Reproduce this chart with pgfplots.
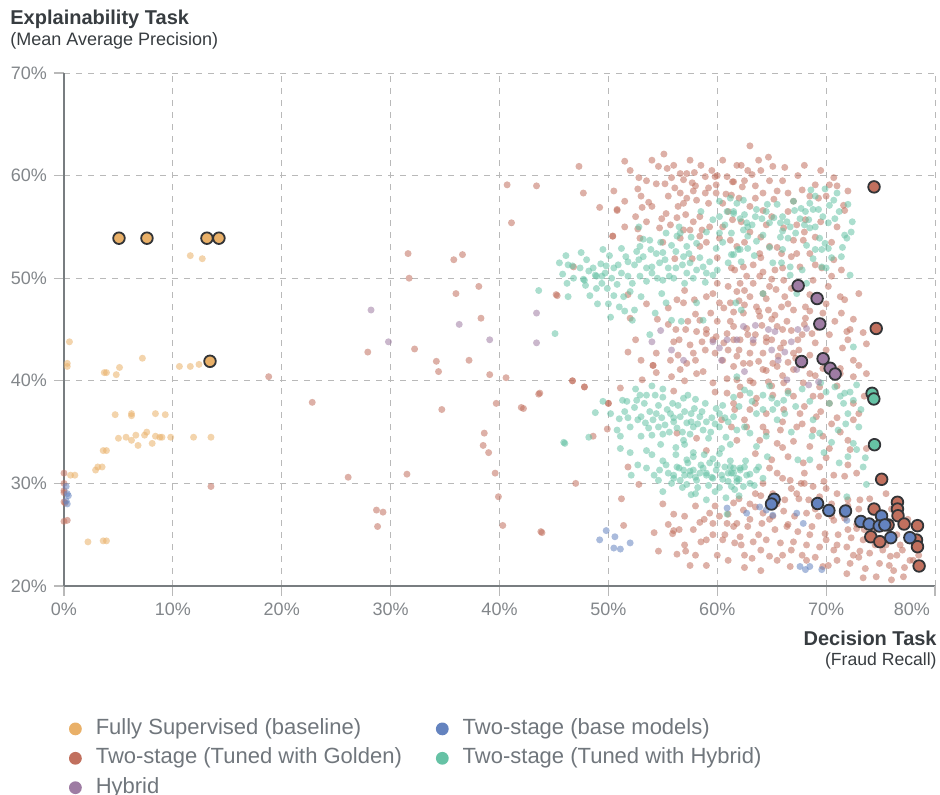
\documentclass[border=0pt]{standalone}
\usepackage{pgfplots}
\pgfplotsset{compat=1.18}
\usepackage{fontspec}
\setmainfont{Liberation Sans}
\definecolor{cOr}{RGB}{233,176,104}
\definecolor{cRd}{RGB}{193,112,94}
\definecolor{cPu}{RGB}{158,124,163}
\definecolor{cBl}{RGB}{100,131,191}
\definecolor{cTe}{RGB}{102,194,165}
\definecolor{cEdge}{RGB}{50,52,55}
\definecolor{cGrid}{RGB}{185,185,185}
\definecolor{cAxis}{RGB}{120,125,128}
\definecolor{cTick}{RGB}{130,134,138}
\definecolor{cTitle}{RGB}{55,60,64}
\definecolor{cLeg}{RGB}{112,118,124}
\pgfplotsset{
  smallpt/.style={only marks, mark=*, mark size=1.75pt, color=#1, mark options={draw=#1, fill=#1, fill opacity=0.55, draw opacity=0}, forget plot},
  bigpt/.style={only marks, mark=*, mark size=2.9pt, mark options={draw=cEdge, line width=0.9pt, fill=#1}, forget plot},
  legpt/.style={only marks, mark=*, mark size=3.2pt, color=#1, mark options={draw=#1, fill=#1, draw opacity=0}},
}
\begin{document}
\begin{tikzpicture}
\begin{axis}[
  scale only axis, width=435.5pt, height=256.5pt,
  xmin=0, xmax=80, ymin=20, ymax=70,
  clip=false,
  axis lines*=left,
  axis line style={cAxis, line width=1pt},
  xtick={0,10,...,70}, ytick={20,30,...,70},
  extra x ticks={80}, extra x tick labels={80\%},
  extra x tick style={grid=major, xticklabel style={anchor=north east, xshift=1pt}},
  xticklabel={\pgfmathprintnumber[assume math mode=true]{\tick}\%},
  yticklabel={\pgfmathprintnumber[assume math mode=true]{\tick}\%},
  tick label style={font=\fontsize{9}{10}\selectfont, text=cTick},
  tick align=outside, major tick length=5pt,
  tick style={cGrid, line width=0.6pt},
  grid=major, grid style={cGrid, dash pattern=on 3pt off 3pt, line width=0.5pt},
  legend columns=2, legend cell align=left,
  legend style={draw=none, fill=none, inner sep=0pt, outer sep=0pt, anchor=north west, at={(axis description cs:0,0)}, xshift=2.5pt, yshift=-66.2pt,
    font=\fontsize{11}{12}\selectfont, text=cLeg, row sep=4.2pt,
    nodes={inner xsep=2pt, inner ysep=0pt, text height=8pt, text depth=2.5pt},
    /tikz/every odd column/.append style={column sep=5pt},
    /tikz/every even column/.append style={column sep=15pt}},
]
\addlegendimage{legpt=cOr}
\addlegendentry{Fully Supervised (baseline)}
\addlegendimage{legpt=cBl}
\addlegendentry{Two-stage (base models)}
\addlegendimage{legpt=cRd}
\addlegendentry{Two-stage (Tuned with Golden)}
\addlegendimage{legpt=cTe}
\addlegendentry{Two-stage (Tuned with Hybrid)}
\addlegendimage{legpt=cPu}
\addlegendentry{Hybrid}

% Two-stage (Tuned with Golden), small
\addplot[smallpt=cRd] coordinates {
(0,31.0)(0,30.0)(0,29.3)(0,29.1)(0,28.2)(0.1,28.1)(0,26.3)(0.3,26.4)(13.5,29.7)(18.8,40.4)(22.8,37.9)(26.1,30.6)(27.9,42.8)(28.7,27.4)(29.3,27.2)(28.8,25.8)(31.5,30.9)(31.6,52.4)(31.7,50.0)(32.2,43.1)(34.2,41.9)(34.4,40.9)(34.7,37.2)(35.8,51.8)(36.6,52.3)(36.0,48.5)(38.1,49.2)(38.3,46.1)(37.2,42.0)(39.1,40.6)(40.6,40.3)(38.6,34.9)(39.6,31.0)(39.9,28.7)(40.3,25.9)(40.7,59.1)(41.1,55.4)(42.0,37.4)(42.2,37.3)(43.8,25.3)(47.8,39.4)(48.6,34.6)(49.9,35.3)(50.8,56.6)
(43.4,59.0)(39.7,37.8)(38.5,33.7)(39.0,33.0)(43.6,38.7)(45.3,48.3)(46.7,40.0)(47.0,30.0)(49.2,56.9)(50.4,54.1)(50.0,37.8)
(47.3,60.9)(47.7,58.3)(51.5,61.4)(55.1,62.1)(54.6,60.9)(55.4,60.7)(52.8,59.8)(54.4,59.2)(55.2,59.2)(56.1,58.8)(52.7,58.7)(56.6,60.2)(57.2,60.2)(57.9,60.3)(56.9,59.6)(57.7,59.3)(58.9,59.9)(59.8,59.9)(59.9,59.1)(60.9,59.9)(61.5,59.4)(61.8,61.0)(56.6,58.3)(57.2,57.8)(56.9,57.3)(58.1,57.6)(58.9,58.3)(59.2,57.3)(59.9,58.3)(60.5,57.3)(53.7,57.4)(53.1,56.9)(50.8,56.7)(55.3,56.3)(56.3,55.9)(57.1,56.2)(58.4,56.0)(54.9,55.8)(54.7,54.9)(55.7,55.2)(56.9,54.7)(57.5,54.7)(58.6,54.7)(59.3,55.0)(60.2,53.9)(52.9,53.9)(52.7,54.8)(50.4,54.1)(56.6,53.9)(58.4,54.1)(58.4,53.1)(57.7,51.9)(56.1,51.9)(61.2,53.7)(61.8,53.1)(46.8,51.1)(51.8,48.4)(52.0,46.1)(55.5,47.1)(56.3,47.9)(56.9,47.6)(57.9,47.9)(59.0,48.2)(59.6,48.5)(60.2,47.6)(60.6,47.1)(61.5,46.7)(59.4,46.6)(58.4,45.9)(57.3,45.8)(56.2,45.0)(57.1,45.0)(58.1,44.8)(59.0,44.6)(59.9,44.3)(60.9,44.6)(58.6,43.8)(59.6,44.0)(60.6,43.7)(61.5,44.0)(56.0,43.8)(56.4,42.5)(57.8,42.7)(58.9,43.0)(59.8,42.7)(54.4,42.7)(54.1,41.5)(55.7,42.0)(51.8,42.8)(45.2,48.4)(61.2,45.8)(61.3,58.1)(61.3,51.0)(61.0,49.2)
(63.0,62.9)(64.7,61.8)(65.1,60.9)(62.2,61.0)(63.2,60.1)(61.4,59.4)(62.3,58.9)(64.2,58.3)(65.2,57.7)(66.5,58.3)(67.4,60.0)(67.8,58.6)(69.0,59.1)(70.3,59.1)(70.7,59.8)(69.3,57.8)(71.6,57.1)(71.7,56.6)(64.2,56.6)(63.0,57.0)(62.2,55.5)(61.4,55.7)(64.5,55.2)(66.1,54.9)(67.3,55.2)(68.1,55.7)(67.0,53.7)(67.9,53.7)(64.8,53.1)(63.9,52.4)(65.9,52.4)(67.3,52.4)(68.5,52.4)(70.7,51.8)(69.0,51.3)(66.8,52.1)(63.3,51.3)(62.4,51.1)(61.6,50.8)(64.2,50.6)(65.3,50.8)(67.6,51.1)(69.6,51.0)(71.4,50.8)(62.7,50.2)(63.9,50.2)(65.0,49.9)(66.1,49.8)(62.1,49.5)(63.3,49.5)(64.8,49.2)(65.4,48.9)(61.8,48.7)(63.0,48.2)(64.2,48.5)(66.2,48.2)(68.5,48.4)(70.2,49.2)(71.3,48.2)(71.7,47.9)(61.2,47.6)(62.5,47.4)(63.6,47.2)(64.7,46.9)(65.9,47.2)(67.0,46.9)(68.1,47.2)(62.4,46.6)(63.9,46.3)(65.3,46.4)(66.4,45.8)(68.1,46.1)(69.7,46.6)(71.4,46.6)(61.5,45.3)(62.7,45.1)(64.1,45.4)(65.5,45.3)(66.8,44.9)(68.7,44.6)(70.3,44.5)(71.9,44.8)(73.4,44.7)(73.7,43.6)(72.0,44.0)(62.1,44.0)(63.3,43.7)(64.5,43.8)(66.1,43.7)(67.4,44.0)(69.0,43.7)(63.0,42.7)(64.2,42.7)(65.6,42.4)(67.0,42.7)(68.5,42.5)(61.8,42.4)(62.4,41.7)(63.8,41.9)(65.1,41.7)(66.5,41.8)(67.9,41.5)(69.7,41.2)(71.3,41.2)
(43.7,38.8)(46.7,40.0)(47.8,39.4)(50.0,37.8)(51.8,31.6)(52.8,29.9)(51.2,28.5)(51.4,25.9)(43.9,25.2)(54.2,25.2)(55.9,25.1)(56.0,25.4)(54.6,23.4)(56.3,23.1)(57.1,23.4)(57.8,25.5)(58.5,24.3)(58.4,26.2)(59.3,27.1)(59.8,27.8)(60.2,26.8)(59.6,25.0)(60.7,25.0)(61.5,25.8)(61.6,24.2)(60.9,26.1)(59.6,26.1)(51.1,39.3)(53.1,40.1)(54.1,41.5)(54.4,40.8)(55.8,40.4)(56.6,41.1)(57.2,41.7)(58.1,40.7)(58.7,40.9)(59.8,38.9)(60.9,38.8)(61.5,37.8)(60.4,36.2)(61.3,35.5)(61.8,34.2)(59.0,33.2)(58.1,34.4)(56.3,34.9)(59.6,39.8)(60.9,40.2)(62.1,39.4)
(61.5,41.4)(63.0,41.7)(64.2,41.1)(65.5,41.4)(67.0,41.1)(68.5,40.7)(70.3,41.4)(71.3,40.7)(72.5,40.4)(73.7,40.7)(61.8,40.1)(63.3,39.8)(64.7,39.9)(66.1,39.8)(67.9,39.8)(69.4,39.4)(62.1,38.6)(63.6,38.3)(65.1,38.6)(67.0,38.5)(68.8,38.5)(70.3,37.8)(72.5,37.8)(61.6,37.2)(63.0,37.2)(64.5,36.8)(66.1,37.2)(67.6,36.8)(69.1,36.5)(71.0,36.4)(72.5,36.2)(62.7,35.5)(64.2,35.5)(65.8,35.2)(67.3,35.5)(68.8,35.2)(69.7,34.6)(71.3,35.0)(63.9,34.2)(65.5,33.9)(67.0,34.1)(68.5,33.6)(70.3,33.4)(72.2,33.3)(73.7,33.4)(63.5,32.9)(65.0,32.3)(66.5,32.6)(67.9,32.0)(69.4,31.6)(70.7,30.8)(71.7,30.7)(72.8,31.0)(65.5,31.0)(66.7,30.3)(67.7,30.0)(68.8,29.7)(64.2,30.0)(65.1,29.0)(66.2,28.4)(67.3,29.0)(68.4,28.4)(69.4,28.7)(71.0,29.0)(72.0,28.4)(73.1,28.4)(61.5,28.1)(62.4,27.4)(63.5,27.7)(64.2,27.1)(65.1,26.8)(66.1,27.3)(67.1,26.8)(68.2,27.1)(69.3,26.8)(70.7,26.4)(71.7,26.6)(72.8,25.6)(61.8,26.1)(62.8,25.8)(64.1,26.1)(65.3,25.5)(66.4,25.8)(67.4,25.3)(68.7,25.8)(69.9,25.1)(71.1,25.0)(72.3,24.7)(73.4,24.5)(62.1,24.8)(63.3,24.3)(64.5,24.5)(65.8,24.2)(67.0,24.3)(68.2,24.0)(69.4,23.8)(70.7,23.5)(71.9,23.8)(73.1,23.4)(74.0,23.2)(75.2,23.5)(76.5,23.0)(63.2,22.7)(64.8,22.9)(66.7,21.9)(68.2,22.5)(69.7,21.9)(71.0,22.5)(72.2,22.2)(73.6,21.7)(74.9,22.2)(76.0,20.6)(77.1,20.9)(77.7,22.5)(75.9,22.9)(74.6,20.9)(71.9,21.2)(73.4,20.8)
(74.5,25.5)(75.5,24.0)(76.5,25.0)(77.0,23.5)(78.0,22.5)(76.2,21.5)(73.0,22.8)(72.0,25.5)(70.0,24.5)(69.0,27.5)(66.0,23.0)(64.0,23.5)(62.5,23.0)(63.0,26.5)(65.5,28.0)(67.5,28.5)(70.5,28.0)(71.5,27.0)(74.0,28.5)(73.0,27.5)(75.5,29.0)(66.5,26.0)(68.5,25.0)(72.8,26.0)(61.0,22.5)(59.0,22.0)(58.0,23.0)(57.0,24.0)(56.0,27.0)(55.0,28.0)
(53.0,58.0)(54.0,57.0)(55.5,58.0)(58.0,59.0)(59.5,60.5)(60.5,61.5)(57.5,61.5)(56.0,61.0)(52.0,60.5)(62.5,59.5)(63.5,59.0)(64.0,60.5)(66.0,59.5)(68.0,61.0)(66.5,56.5)(65.0,56.0)(69.5,55.5)(70.5,53.5)(71.0,55.0)(63.0,54.5)(64.5,48.0)(62.0,43.0)(63.5,44.5)(65.0,44.0)(66.0,45.0)(67.5,43.0)(68.0,45.5)(64.5,41.0)(66.0,40.5)(63.0,40.0)(69.0,40.5)(70.0,43.0)(72.5,42.0)(72.5,46.0)(73.0,48.5)
(50.5,58.5)(51.5,57.5)(52.5,56.0)(53.5,59.5)(54.0,61.5)(55.8,59.8)(56.4,57.0)(57.8,58.5)(58.5,61.0)(59.2,58.8)(60.0,60.0)(60.8,58.2)(61.0,56.5)(62.0,57.8)(62.8,60.5)(63.8,61.5)(64.8,59.5)(65.5,58.5)(66.2,60.8)(67.0,57.5)(68.5,58.0)(69.5,60.5)(70.0,58.0)(71.0,59.0)(72.0,58.5)(62.5,53.5)(64.0,54.0)(65.5,53.0)(68.0,54.5)(69.0,54.0)(66.0,51.0)(64.0,52.0)(60.0,52.0)(59.0,53.5)(55.0,53.5)(53.5,55.5)(51.5,55.0)(57.8,55.5)(60.5,55.0)(63.5,57.8)
(55.5,45.5)(56.5,44.0)(57.5,43.5)(58.0,46.5)(59.0,45.0)(60.0,45.8)(61.0,43.0)(62.0,47.8)(62.8,44.5)(63.8,46.8)(64.5,44.2)(65.0,46.0)(65.8,43.2)(66.5,47.5)(67.2,42.2)(67.8,44.5)(68.5,46.8)(69.2,45.2)(70.0,47.5)(70.8,45.8)(71.5,43.2)(72.2,45.0)(73.0,41.5)(71.0,39.5)(69.5,38.5)(68.0,37.5)(66.5,39.0)(65.0,39.5)(63.5,37.8)(62.5,36.2)(64.5,35.0)(66.0,36.0)(67.8,35.8)(69.5,37.0)(70.5,35.8)(73.0,36.8)(73.5,38.5)(72.0,34.2)(70.0,32.5)(68.0,31.0)(66.0,33.5)(64.8,31.5)(63.5,29.0)(66.8,29.5)(69.8,30.2)(72.0,31.8)(60.5,42.0)(58.0,42.0)(57.0,40.0)(56.0,39.0)(53.0,42.0)(52.5,44.0)(54.5,46.0)(53.5,47.5)(57.0,48.8)(60.0,49.5)(62.5,48.8)(66.8,49.0)(68.8,49.8)(70.5,50.2)
(55.5,26.0)(57.0,26.8)(58.0,27.8)(59.0,24.5)(60.0,23.0)(61.0,27.0)(62.0,28.5)(63.0,28.0)(64.0,28.8)(62.5,21.8)(64.0,21.5)(65.5,22.5)(66.8,23.5)(67.8,23.0)(69.0,22.8)(70.2,22.0)(70.5,26.8)(71.0,24.0)(72.5,23.0)(73.5,25.5)(74.5,24.0)(75.8,22.0)(77.2,21.8)(76.8,24.0)(78.5,23.0)(77.5,26.5)(76.0,27.5)(74.8,27.0)(73.8,26.0)(72.0,27.8)(70.0,29.5)(68.0,30.0)(66.0,30.5)(64.8,26.5)(63.8,25.0)(62.2,24.0)(60.5,24.5)(58.8,26.5)(57.5,22.0)(56.5,25.5)
};
% Two-stage (Tuned with Hybrid), small
\addplot[smallpt=cTe] coordinates {
(45.1,44.6)(43.6,48.8)(46.1,52.2)(46.3,51.3)(45.8,50.4)(46.2,49.5)(46.3,48.2)(47.7,49.9)(47.9,49.3)(48.2,50.7)(48.6,51.0)(48.8,50.3)(48.3,48.3)(49.3,51.4)(49.4,50.2)(49.5,52.8)(49.8,51.2)(49.4,49.5)(50.1,52.2)(50.5,48.3)(50.0,47.5)(48.8,36.9)(48.2,34.5)(46.0,33.9)
(46.7,51.2)(47.8,49.8)(49.7,50.5)(48.9,50.2)(51.0,47.2)(50.9,51.3)(50.8,49.4)(51.6,52.1)(51.8,50.2)(52.0,48.7)(51.2,52.9)(52.6,52.6)(52.9,53.1)(53.2,52.1)(52.4,51.3)(52.9,50.2)(53.5,49.7)(53.8,53.7)(54.0,51.1)(54.4,52.4)(54.7,51.5)(55.0,49.8)(54.9,48.5)(55.3,47.6)(54.3,46.6)(55.3,54.4)(55.8,53.2)(56.3,54.1)(56.6,54.4)(57.2,53.1)(56.9,52.1)(56.2,51.0)(57.2,50.5)(58.1,50.8)(58.7,51.1)(59.0,50.5)(59.6,50.3)(58.1,53.4)(59.6,55.7)(60.2,56.0)(60.9,56.5)(61.5,56.3)(60.7,55.2)(61.3,54.4)(59.9,52.9)(61.3,52.3)(61.9,52.8)(55.8,45.9)(56.7,45.8)(58.7,45.9)(58.1,47.6)(53.8,44.5)(47.4,51.0)(50.3,50.0)(51.4,48.2)(52.4,46.9)(52.2,45.9)
(62.4,57.6)(61.8,57.3)(63.6,56.7)(61.5,56.5)(62.1,55.8)(62.7,55.4)(64.1,55.8)(64.8,55.4)(65.8,55.4)(66.4,55.5)(66.7,55.0)(67.1,56.6)(67.7,56.8)(68.5,57.3)(68.1,56.5)(68.8,56.7)(69.3,56.7)(67.6,55.8)(68.4,55.7)(68.5,54.9)(69.7,56.0)(70.3,57.1)(70.7,57.6)(69.9,58.7)(70.8,55.8)(71.7,54.2)(71.9,53.9)(72.3,54.5)(69.4,53.9)(69.0,52.8)(69.6,52.8)(70.2,52.9)(68.8,51.9)(71.4,52.1)(69.6,51.1)(70.0,51.0)(72.2,50.3)(62.4,54.7)(62.8,54.1)(64.2,54.2)(65.8,54.0)(66.5,53.9)(63.6,53.6)(62.1,52.8)(62.8,52.9)(61.5,52.3)(65.1,51.5)(65.9,51.5)(66.7,51.1)(64.2,48.5)(66.7,50.3)(67.3,48.5)(68.2,49.5)(72.5,43.3)(61.7,47.6)(62.2,46.9)
(45.9,34.0)(51.1,34.6)(51.0,36.3)(51.8,36.4)(51.3,38.1)(51.7,38.0)(52.6,38.1)(52.9,38.6)(53.5,38.6)(54.3,38.6)(55.0,38.4)(52.7,36.2)(53.4,35.9)(53.7,35.4)(54.1,36.2)(54.0,34.7)(54.4,36.8)(54.9,36.4)(55.2,35.7)(55.7,36.8)(56.0,36.0)(56.3,35.4)(56.6,36.5)(56.9,34.2)(57.2,35.9)(57.6,36.8)(57.8,35.5)(57.9,37.3)(58.4,36.5)(58.7,35.2)(59.0,36.0)(59.5,36.4)(59.9,37.3)(60.2,35.5)(60.7,36.4)(56.9,38.3)(57.3,38.6)(54.0,32.8)(52.1,30.8)(52.7,31.8)(54.7,31.3)(55.3,31.8)(56.0,30.8)(56.3,31.6)(56.6,30.3)(56.9,31.3)(57.3,32.0)(57.5,30.8)(57.8,31.3)(58.1,30.3)(58.4,31.0)(58.7,31.5)(59.0,30.8)(59.3,32.0)(59.6,30.5)(59.9,31.3)(60.4,30.8)(60.7,31.6)(61.0,30.2)(61.3,31.0)(61.8,30.5)(62.1,31.3)(57.6,28.9)(57.2,29.9)(54.6,30.3)(57.8,32.6)(60.4,33.4)(60.9,27.0)(51.1,33.4)
(61.8,40.4)(62.5,39.1)(63.0,38.8)(64.2,38.6)(65.0,38.3)(65.5,37.8)(66.1,38.1)(65.1,37.2)(66.2,36.8)(64.2,37.2)(63.6,36.8)(62.5,35.5)(63.0,34.9)(61.8,35.2)(63.6,33.6)(64.5,34.6)(68.8,36.2)(69.4,34.9)(68.7,34.6)(70.0,38.9)(70.3,37.8)(71.3,38.5)(71.7,38.8)(71.6,37.8)(72.2,38.9)(72.5,38.1)(72.0,36.8)(71.1,35.2)(72.5,33.9)(72.0,32.6)(72.8,33.3)(73.4,31.6)(73.7,29.9)(71.9,28.7)(68.5,32.3)(67.4,32.3)(61.2,31.6)(61.5,31.0)(62.1,31.5)(61.8,30.2)(62.7,30.8)(63.0,30.0)(63.6,31.3)(62.4,29.7)(61.3,29.7)
(55.5,31.0)(56.0,30.5)(56.5,31.5)(57.0,30.8)(57.5,31.2)(58.0,30.6)(58.5,31.8)(59.0,31.0)(59.5,30.6)(60.0,31.8)(60.5,30.4)(61.0,31.0)(61.5,31.5)(62.0,30.4)(62.5,31.6)(63.0,30.9)(58.2,29.6)(59.2,29.8)(60.2,29.6)(57.2,32.3)(59.6,32.4)(61.2,32.2)(53.0,36.5)(53.8,37.0)(54.6,35.5)(55.4,37.2)(56.0,36.4)(56.8,35.0)(57.6,36.0)(58.6,37.0)(59.4,35.0)(60.2,36.8)(54.0,50.5)(55.0,52.5)(56.0,50.0)(57.5,51.5)(53.5,51.0)(55.5,51.0)(57.0,49.5)(63.5,56.0)(64.5,56.5)(65.5,57.2)(66.0,56.0)(67.0,57.5)(69.0,58.0)(62.8,55.0)
(45.5,51.5)(46.8,50.0)(47.5,52.5)(48.0,51.8)(48.9,49.0)(49.9,49.0)(50.5,51.0)(51.2,50.5)(51.8,51.6)(52.2,49.5)(52.8,51.8)(53.2,53.8)(53.9,52.8)(54.5,50.0)(55.2,51.8)(55.6,50.2)(56.2,52.6)(56.8,51.3)(57.4,52.4)(57.8,50.0)(58.4,52.0)(58.9,49.6)(59.3,51.6)(60.0,50.8)(60.5,53.5)(61.0,51.5)(60.2,54.4)(59.0,54.5)(57.6,54.0)(54.8,53.5)(53.0,48.2)(51.5,46.8)(50.2,46.2)(49.0,47.5)(52.8,55.0)(56.5,55.0)(58.5,56.5)(60.2,57.5)(61.2,57.8)
(62.5,56.2)(63.2,55.2)(64.6,57.2)(65.2,55.9)(66.0,54.6)(67.2,54.4)(68.0,55.2)(69.0,55.0)(70.2,55.4)(71.2,56.5)(72.0,57.2)(71.5,53.0)(70.5,52.0)(69.9,53.4)(68.2,53.2)(66.0,52.8)(64.8,53.0)(63.4,52.2)(62.2,51.6)(67.8,50.8)(72.4,55.5)(71.0,58.3)(68.6,58.6)
(49.5,38.0)(50.2,36.8)(50.8,35.2)(51.5,37.0)(52.0,35.5)(52.4,37.4)(53.0,34.6)(53.3,37.8)(54.6,37.6)(55.0,34.8)(55.6,35.0)(55.9,37.8)(56.4,37.6)(57.0,37.0)(57.5,34.8)(58.0,38.2)(58.2,35.8)(58.9,37.8)(59.2,34.4)(59.8,35.8)(60.5,37.6)(61.0,36.0)(61.5,38.4)(60.8,34.5)(61.2,33.8)(56.2,33.5)(54.8,33.8)(53.5,33.2)(52.0,33.0)(55.0,39.2)(54.0,39.5)(52.5,39.2)
(53.5,31.5)(54.2,30.8)(55.0,32.2)(55.8,30.0)(56.2,32.8)(56.8,29.6)(57.8,33.0)(58.8,32.8)(59.8,29.2)(60.2,32.9)(61.6,29.4)(62.6,32.2)(63.4,29.8)(63.8,31.6)(64.2,30.5)(64.6,32.6)(58.0,29.0)(59.0,28.4)(60.8,28.6)(62.0,28.8)(55.0,29.2)(57.0,33.8)
(64.8,39.5)(66.5,38.8)(67.2,37.5)(67.8,39.2)(68.5,38.0)(69.5,39.8)(70.8,39.4)(72.8,39.6)(73.2,37.2)(73.0,35.5)(71.8,35.8)(70.5,34.0)(69.8,33.0)(71.2,32.0)(73.6,32.5)(66.8,35.0)(65.5,36.2)(63.2,38.0)(62.0,37.5)(61.5,36.5)
};
% Hybrid, small
\addplot[smallpt=cPu] coordinates {
(28.2,46.9)(29.8,43.8)(36.3,45.5)(39.1,44.0)(43.4,46.6)(43.4,43.7)(54.8,44.9)(54.0,43.8)(55.8,43.0)(56.9,42.0)(59.6,43.8)(60.2,43.2)(60.9,44.0)(60.4,42.0)(62.4,45.3)(63.5,45.4)(64.7,45.0)(65.3,44.8)(61.8,44.0)(63.3,44.0)(65.0,43.0)(66.2,42.8)(66.8,43.8)(67.4,45.0)(68.2,45.1)(65.6,42.0)(62.5,40.9)(66.4,40.1)(68.4,39.6)(69.3,39.9)(67.3,41.1)
};
% Two-stage (base models), small
\addplot[smallpt=cBl] coordinates {
(0.2,29.7)(0.3,29.0)(0.4,28.8)(0.2,28.3)(0.3,28.0)(49.8,25.4)(50.6,24.8)(49.2,24.5)(50.5,23.7)(51.1,23.6)(52.0,24.2)(60.9,27.6)(62.7,27.1)(63.9,27.7)(64.5,27.4)(65.1,26.9)(67.3,27.1)(67.9,26.1)(67.6,21.9)(68.5,21.9)(69.6,21.6)(68.1,21.6)(71.9,26.4)
};
% Fully Supervised, small
\addplot[smallpt=cOr] coordinates {
(0.5,43.8)(0.3,41.7)(0.3,41.4)(0.6,30.8)(1.0,30.8)(2.9,31.3)(3.1,31.6)(3.5,31.6)(3.6,33.2)(3.9,33.2)(2.2,24.3)(3.6,24.4)(3.9,24.4)(3.7,40.8)(3.9,40.8)(4.8,40.6)(5.1,41.3)(4.7,36.7)(6.2,36.8)(6.2,36.6)(7.2,42.2)(5.0,34.4)(5.7,34.5)(6.2,34.2)(6.6,34.7)(6.8,33.7)(7.4,34.7)(7.6,35.0)(8.1,33.9)(8.4,34.6)(8.4,36.8)(8.8,34.5)(9.0,34.5)(9.3,36.7)(9.8,34.5)(10.6,41.4)(11.6,41.4)(12.4,41.6)(11.6,52.2)(12.7,51.9)(11.9,34.5)(13.5,34.5)
};
% highlighted models
\addplot[bigpt=cOr] coordinates {(5.05,53.9)(7.62,53.9)(13.13,53.9)(14.23,53.9)(13.41,41.9)};
\addplot[bigpt=cRd] coordinates {(74.4,58.9)(74.6,45.1)(75.1,30.4)(74.4,27.5)(76.55,28.16)(76.55,27.5)(76.6,26.85)(77.16,26.04)(75.69,25.95)(78.39,25.88)(74.1,24.8)(74.93,24.32)(78.3,24.48)(78.39,23.83)(78.54,21.95)};
\addplot[bigpt=cPu] coordinates {(67.43,49.27)(69.17,48.02)(69.42,45.54)(67.74,41.88)(69.72,42.15)(70.37,41.22)(70.83,40.66)};
\addplot[bigpt=cTe] coordinates {(74.22,38.78)(74.38,38.23)(74.44,33.77)};
\addplot[bigpt=cBl] coordinates {(65.22,28.45)(64.98,27.99)(69.21,28.04)(70.25,27.36)(71.78,27.31)(73.19,26.29)(73.95,26.04)(75.09,26.82)(74.88,25.85)(75.39,25.95)(75.94,24.71)(77.69,24.71)};
\end{axis}
\node[anchor=base west, inner sep=0pt, font=\bfseries\fontsize{10}{12}\selectfont, text=cTitle] at (-27pt,280.5pt) {Explainability Task};
\node[anchor=base west, inner sep=0pt, font=\fontsize{9}{11}\selectfont, text=cTitle] at (-27pt,270pt) {(Mean Average Precision)};
\node[anchor=base east, inner sep=0pt, font=\bfseries\fontsize{10}{12}\selectfont, text=cTitle] at (436.5pt,-30pt) {Decision Task};
\node[anchor=base east, inner sep=0pt, font=\fontsize{8.8}{11}\selectfont, text=cTitle] at (436.5pt,-40pt) {(Fraud Recall)};
\pgfresetboundingbox
\path (-32pt,-104.5pt) rectangle (438pt,293pt);
\end{tikzpicture}
\end{document}
